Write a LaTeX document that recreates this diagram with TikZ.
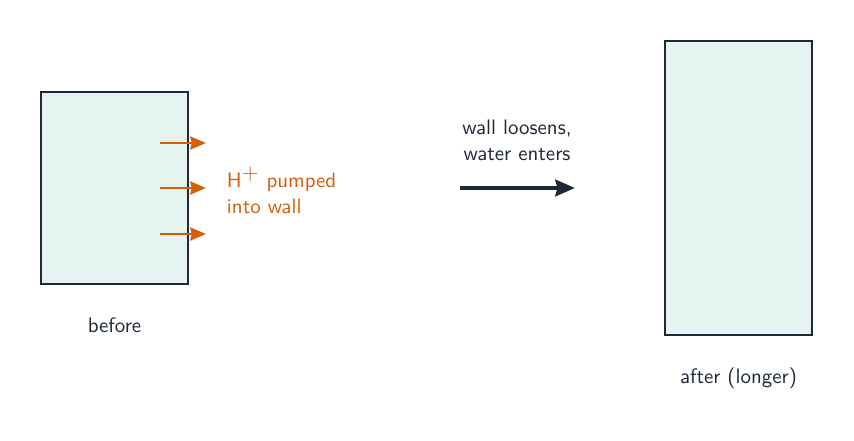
\documentclass[tikz,border=0pt]{standalone}
\usepackage{tikz}
\usetikzlibrary{positioning}
\usetikzlibrary{arrows}
\usetikzlibrary{arrows.meta}
\definecolor{wallfill}{HTML}{E5F4F0}
\definecolor{inkdark}{HTML}{1E2838}
\definecolor{protonorange}{HTML}{D35F0A}

\begin{document}
\begin{tikzpicture}[x=0.0178cm, y=-0.0178cm, font=\sffamily\fontsize{10.6}{13.2}\selectfont, text=inkdark,
    cellbox/.style={draw=inkdark, fill=wallfill, line width=1.1pt, minimum width=2.617cm},
    protonarrow/.style={-{Stealth[length=8pt, width=6.6pt, inset=0.8pt]}, draw=protonorange, line width=1.3pt},
    growtharrow/.style={-{Stealth[length=10pt, width=8.4pt, inset=1.2pt]}, draw=inkdark, line width=2pt}]
            \useasboundingbox (0,0) rectangle (854,441);
            \node[cellbox, minimum height=3.418cm] (before_cell) at (114.5,188) {};
            \node[cellbox, minimum height=5.233cm] (after_cell) at (738.5,188) {};
            \node (before_label) [below=0.45cm of before_cell] {before};
            \node (after_label) [below=0.45cm of after_cell] {after (longer)};
            \foreach \y [count=\i] in {143,188,234} {
                \coordinate (pump_in_\i) at (160,\y);
                \coordinate (pump_out_\i) at (206,\y);
                \draw[protonarrow] (pump_in_\i) -- (pump_out_\i);
            }
            \node[align=left, anchor=west, text=protonorange] (proton_label) at (220,190) {H$^{\textstyle +}$\,\,pumped\\into wall};
            \node[align=center] (growth_label) at (517,140) {wall loosens,\\water enters};
            \coordinate (growth_start) at (460,188);
            \coordinate (growth_end) at (575,188);
            \draw[growtharrow] (growth_start) -- (growth_end);
        \end{tikzpicture}
\end{document}
